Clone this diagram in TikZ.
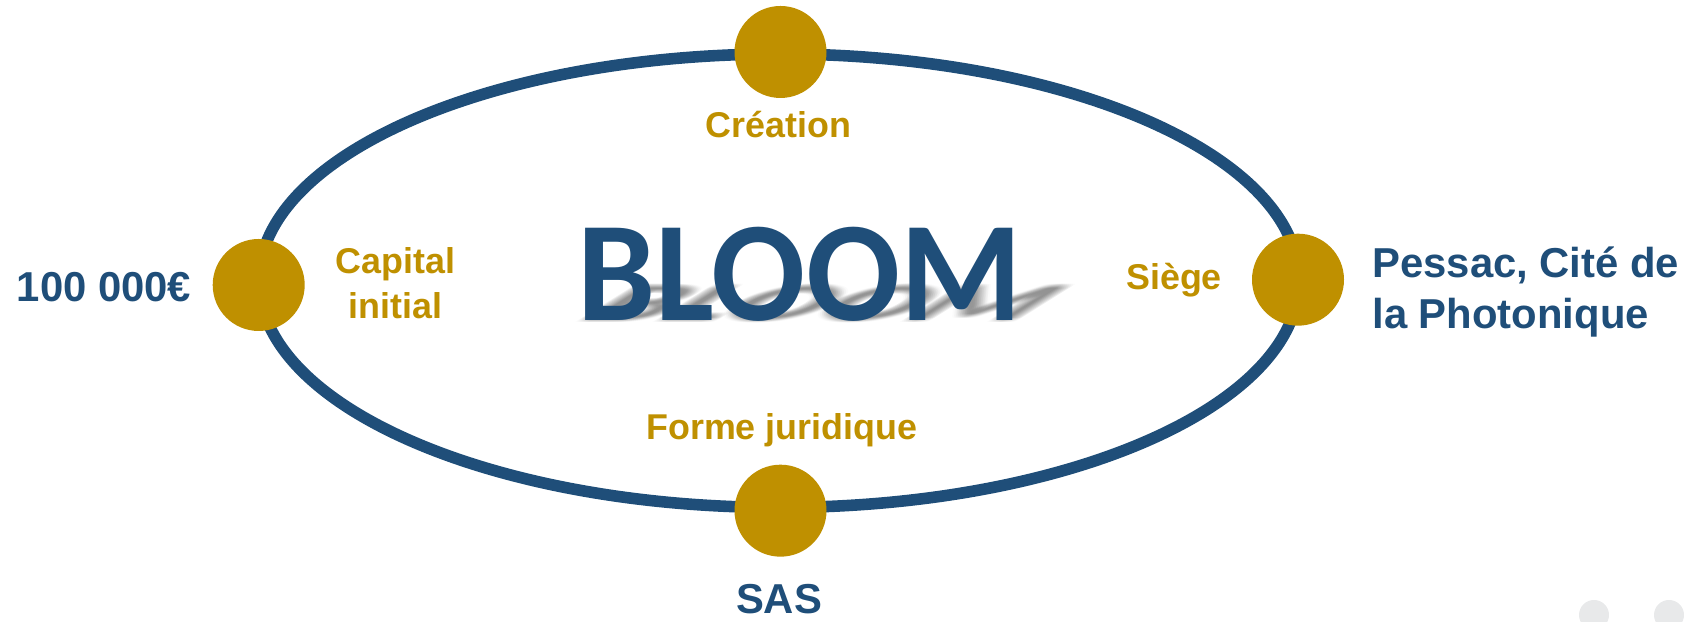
\documentclass[tikz,border=0pt]{standalone}
\usepackage{fontspec}
\setmainfont{Liberation Sans}
\newfontfamily\bloomfont{Carlito}
\usetikzlibrary{positioning}
\usetikzlibrary{shapes}
\definecolor{navy}{HTML}{1F4E79}
\definecolor{gold}{HTML}{BF9000}
\definecolor{pagegrey}{HTML}{E8E9EA}
\tikzstyle{ring}=[ellipse,draw=navy,line width=3.3pt,minimum width=10.40cm,minimum height=4.535cm,inner sep=0pt,outer sep=0pt]
\tikzstyle{dot}=[circle,fill=gold,minimum size=0.92cm,inner sep=0pt]
\tikzstyle{pagedot}=[circle,fill=pagegrey,minimum size=0.30cm,inner sep=0pt]
\tikzstyle{goldtext}=[font=\bfseries\fontsize{10.2}{12.7}\selectfont,text=gold,inner sep=0pt,align=center,anchor=base]
\tikzstyle{bluetext}=[font=\bfseries\fontsize{11.9}{14.5}\selectfont,text=navy,inner sep=0pt,anchor=base]
\tikzstyle{brand}=[font=\bloomfont\bfseries\fontsize{40.5}{40.5}\selectfont,text=navy,inner sep=0pt,anchor=base]
\tikzstyle{brandshadow}=[brand,text=black,opacity=0.014,transform shape]
\newcommand{\brandname}{\scalebox{0.978}[1]{BLOOM}}

\begin{document}
\begin{tikzpicture}
    \useasboundingbox (0,0) rectangle (16.94,6.22);

    \node[ring] (ring) at (7.79,3.4125) {};

    \foreach \pos/\name in {{(7.805,5.70)/top}, {(2.587,3.37)/left}, {(12.98,3.423)/right}, {(7.805,1.113)/bottom}}
        \node[dot] (\name) at \pos {};

    % blurred shadow under the name
    \coordinate (brandbase) at (7.995,3.013);
    \begin{scope}[shift={(brandbase)},xslant=1.6,yscale=0.37]
        \foreach \dx in {-0.06,-0.04,...,0.061}
            \foreach \dy in {-0.06,-0.03,...,0.061}
                \node[brandshadow] at (\dx,\dy) {\brandname};
    \end{scope}
    \node[brand] (bloom) at (brandbase) {\brandname};

    \foreach \pos/\name/\label in {{(7.785,4.843)/creation/Création}, {(11.74,3.32)/siege/Siège}, {(7.817,1.82)/forme/Forme juridique}}
        \node[goldtext] (\name) at \pos {\label};
    \node[goldtext] (capital) at (3.953,3.037) {Capital\\initial};

    \foreach \pos/\name/\label in {{(1.04,3.203)/capitalval/100 000€}, {(7.79,0.087)/formeval/SAS}}
        \node[bluetext] (\name) at \pos {\label};
    \node[bluetext,anchor=base west,align=left] (siegeval) at (13.717,2.937) {Pessac, Cité de\\la Photonique};

    \foreach \pos/\name in {{(15.94,0.07)/pageA}, {(16.69,0.07)/pageB}}
        \node[pagedot] (\name) at \pos {};
\end{tikzpicture}
\end{document}
